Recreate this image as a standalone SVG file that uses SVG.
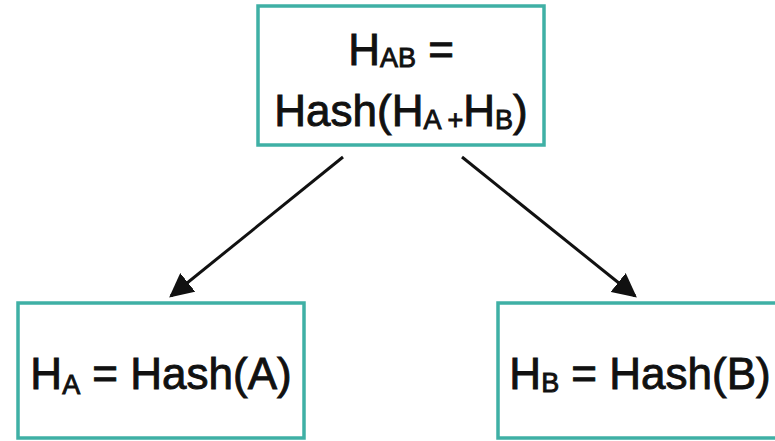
<svg xmlns="http://www.w3.org/2000/svg" width="775" height="441" viewBox="0 0 775 441">
  <style>
    .box { fill: #ffffff; stroke: #3fb0a5; stroke-width: 3.5; }
    .label { font-family: "Liberation Sans", Arial, sans-serif; font-size: 44px; fill: #111111; stroke: #111111; stroke-width: 0.9; text-anchor: middle; }
    .sub { font-size: 27px; }
    .edge { stroke: #111111; stroke-width: 3; fill: none; marker-end: url(#arrow); }
  </style>
  <defs>
    <marker id="arrow" viewBox="0 0 10 10" refX="9" refY="5" markerWidth="8" markerHeight="8" markerUnits="strokeWidth" orient="auto">
      <path d="M0,0 L10,5 L0,10 z" fill="#111111"/>
    </marker>
  </defs>
  <rect width="775" height="441" fill="#ffffff"/>

  <g id="node-hab">
    <rect class="box" x="258" y="6" width="286" height="139"/>
    <text class="label" x="401" y="65">H<tspan class="sub" dy="2">AB</tspan><tspan dy="-2"> =</tspan></text>
    <text class="label" x="401" y="126">Hash(H<tspan class="sub" dy="3">A +</tspan><tspan dy="-3">H</tspan><tspan class="sub" dy="3">B</tspan><tspan dy="-3">)</tspan></text>
  </g>

  <g id="node-ha">
    <rect class="box" x="18" y="303" width="286" height="135"/>
    <text class="label" x="161" y="389">H<tspan class="sub" dy="5">A</tspan><tspan dy="-5"> = Hash(A)</tspan></text>
  </g>

  <g id="node-hb">
    <rect class="box" x="498" y="303" width="286" height="135"/>
    <text class="label" x="640" y="389">H<tspan class="sub" dy="3">B</tspan><tspan dy="-3"> = Hash(B)</tspan></text>
  </g>

  <g id="connectors">
    <line class="edge" x1="343" y1="157" x2="171" y2="296"/>
    <line class="edge" x1="462" y1="157" x2="635" y2="296"/>
  </g>
</svg>
